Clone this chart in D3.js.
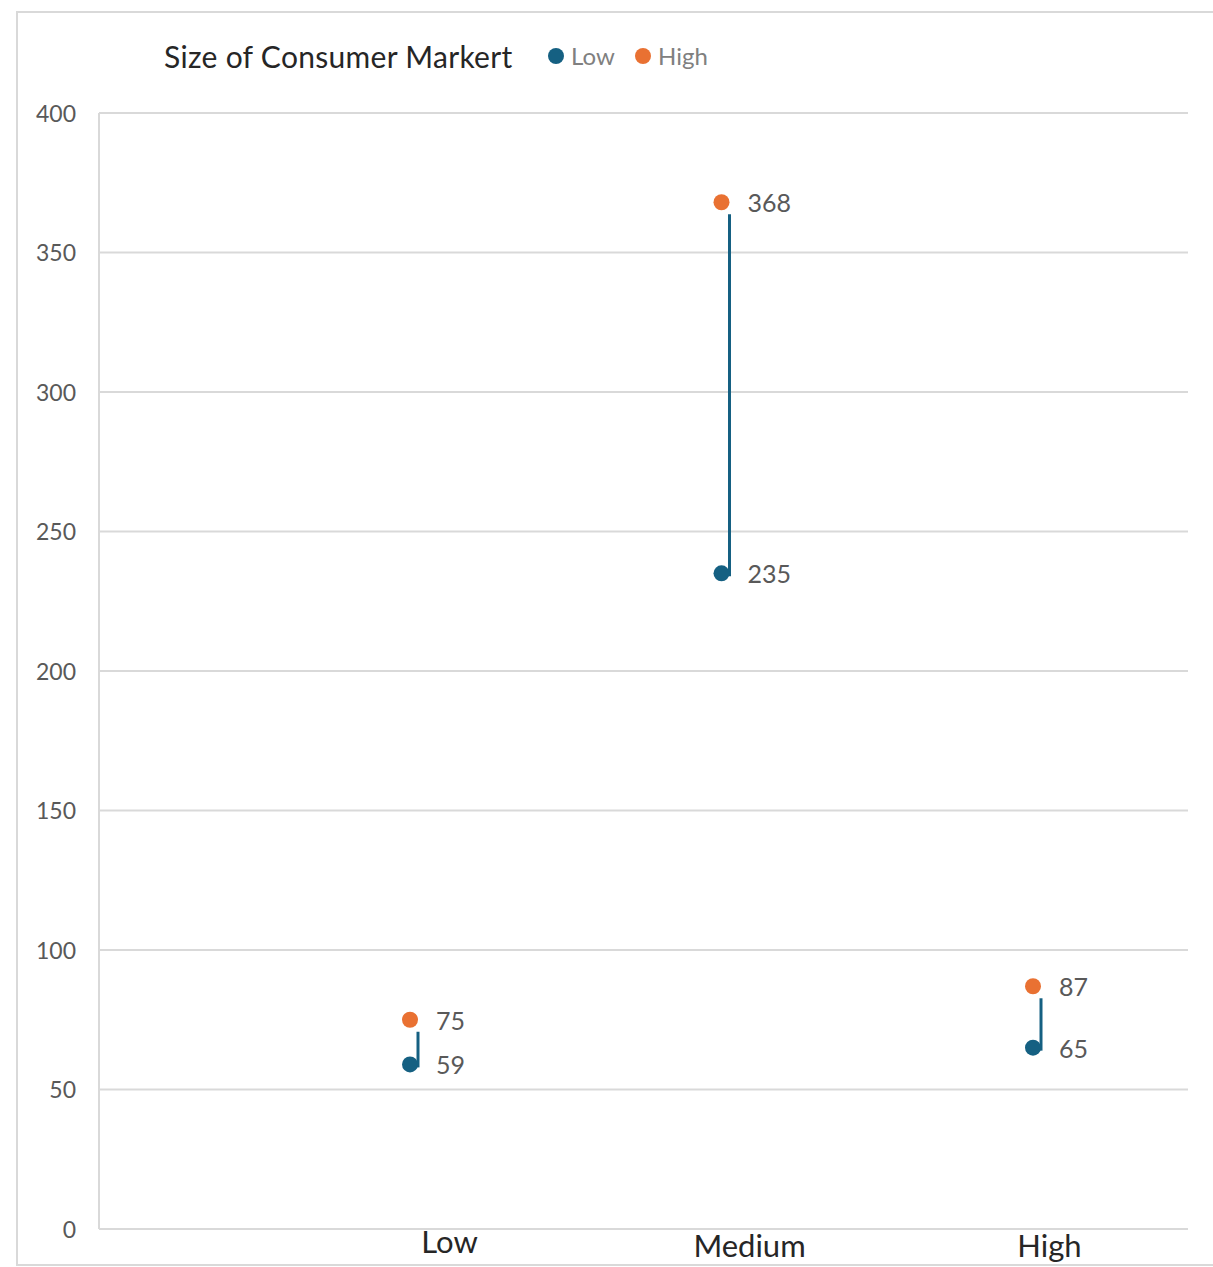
<!DOCTYPE html>
<html><head><meta charset="utf-8">
<script src="https://cdn.jsdelivr.net/npm/d3@7"></script>
<style>body{margin:0;background:#fff}svg{display:block}</style>
</head><body>
<script>
const categories = ["Low", "Medium", "High"];
const lowValues = [59, 235, 65];
const highValues = [75, 368, 87];
const yTicks = [0, 50, 100, 150, 200, 250, 300, 350, 400];
const seriesNames = ["Low", "High"];
const titleText = "Size of Consumer Markert";

const W = 1213, H = 1267;
const blue = "#156082", orange = "#E97132";
const FONT = "Lato, 'Open Sans', sans-serif";
const svg = d3.select("body").append("svg").attr("width", W).attr("height", H);

svg.append("rect").attr("x", 17).attr("y", 12).attr("width", 1210).attr("height", 1253)
  .attr("fill", "#fff").attr("stroke", "#d9d9d9").attr("stroke-width", 2);

const y = d3.scaleLinear().domain([0, 400]).range([1229, 113]);
const x = d3.scalePoint().domain(categories).range([410, 1033]);
const xLab = d3.scalePoint().domain(categories).range([449, 1049]);

const plotL = 99, plotR = 1188;
svg.append("g").selectAll("line").data(yTicks).join("line")
  .attr("x1", plotL).attr("x2", plotR)
  .attr("y1", d => y(d)).attr("y2", d => y(d))
  .attr("stroke", "#d9d9d9").attr("stroke-width", 2);
svg.append("line").attr("x1", plotL).attr("x2", plotL).attr("y1", y(400)).attr("y2", y(0))
  .attr("stroke", "#d9d9d9").attr("stroke-width", 2);

const yAxis = d3.axisLeft(y).tickValues(yTicks).tickSize(0).tickPadding(0);
const gy = svg.append("g").attr("transform", "translate(76,1)").call(yAxis);
gy.select(".domain").remove();
gy.selectAll("text").attr("font-family", FONT).attr("font-size", 23).attr("fill", "#595959");

const xAxis = d3.axisBottom(xLab).tickSize(0).tickPadding(0);
const gx = svg.append("g").attr("transform", "translate(0,1232)").call(xAxis);
gx.select(".domain").remove();
gx.selectAll("text").attr("font-family", FONT).attr("font-size", 31)
  .attr("fill", "#262626").attr("dy", (d, i) => i === 0 ? "0.68em" : "0.8em");

const data = categories.map((c, i) => ({c, lo: lowValues[i], hi: highValues[i]}));

svg.append("g").selectAll("line").data(data).join("line")
  .attr("x1", d => x(d.c) + 8).attr("x2", d => x(d.c) + 8)
  .attr("y1", d => y(d.hi) + 12).attr("y2", d => y(d.lo) + 3)
  .attr("stroke", blue).attr("stroke-width", 3);

svg.append("g").selectAll("circle").data(data).join("circle")
  .attr("cx", d => x(d.c)).attr("cy", d => y(d.hi)).attr("r", 8).attr("fill", orange);
svg.append("g").selectAll("circle").data(data).join("circle")
  .attr("cx", d => x(d.c)).attr("cy", d => y(d.lo)).attr("r", 8).attr("fill", blue);

const lab = svg.append("g").attr("font-family", FONT).attr("font-size", 25).attr("fill", "#595959");
lab.selectAll("text.h").data(data).join("text").attr("class", "h")
  .attr("x", d => x(d.c) + 26).attr("y", d => y(d.hi) + 1).attr("dy", "0.36em").text(d => d.hi);
lab.selectAll("text.l").data(data).join("text").attr("class", "l")
  .attr("x", d => x(d.c) + 26).attr("y", d => y(d.lo) + 1).attr("dy", "0.36em").text(d => d.lo);

svg.append("text").attr("x", 164).attr("y", 68).attr("font-family", FONT)
  .attr("font-size", 30).attr("letter-spacing", 0.3).attr("fill", "#262626").text(titleText);
const legX = [556, 643];
const leg = svg.append("g").selectAll("g").data(seriesNames).join("g")
  .attr("transform", (d, i) => `translate(${legX[i]},56)`);
leg.append("circle").attr("r", 8).attr("fill", (d, i) => i === 0 ? blue : orange);
leg.append("text").attr("x", 15).attr("dy", "0.36em").attr("font-family", FONT)
  .attr("font-size", 24).attr("fill", "#808080").text(d => d);
</script>
</body></html>
